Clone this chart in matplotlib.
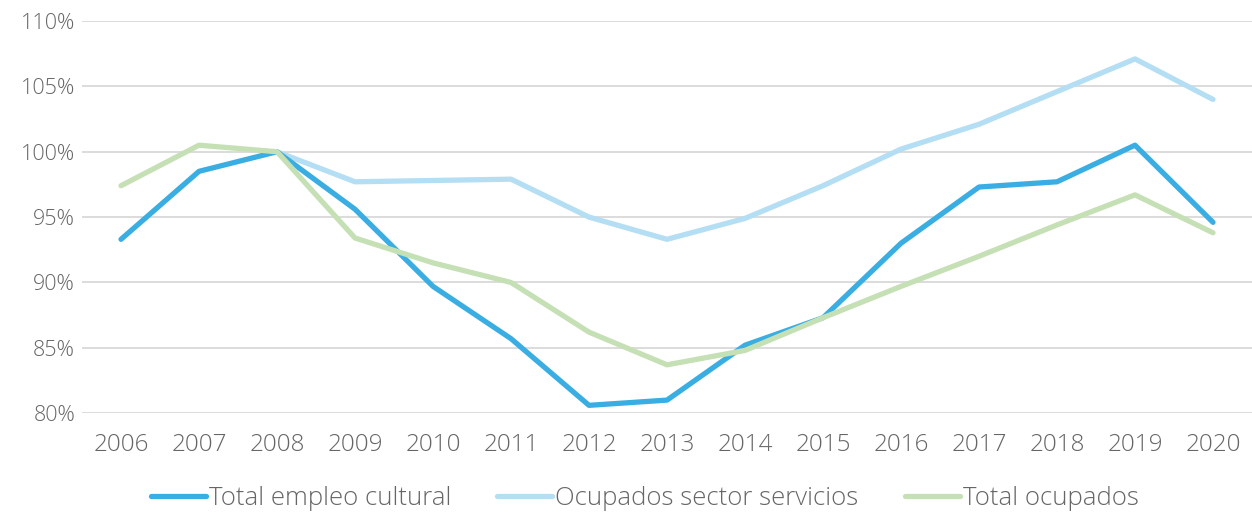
import matplotlib
matplotlib.use('Agg')
import matplotlib.pyplot as plt
from matplotlib.ticker import FuncFormatter

years = ['2006', '2007', '2008', '2009', '2010', '2011', '2012', '2013',
         '2014', '2015', '2016', '2017', '2018', '2019', '2020']

# index values (%)
empleo_cultural = [93.3, 98.5, 100.0, 95.6, 89.7, 85.7, 80.6, 81.0,
                   85.2, 87.3, 93.0, 97.3, 97.7, 100.5, 94.6]
# services series starts in 2008
servicios_years = years[2:]
servicios = [100.0, 97.7, 97.8, 97.9, 95.0, 93.3, 94.9, 97.4,
             100.2, 102.1, 104.6, 107.1, 104.0]
total_ocupados = [97.4, 100.5, 100.0, 93.4, 91.5, 90.0, 86.2, 83.7,
                  84.8, 87.3, 89.7, 92.0, 94.4, 96.7, 93.8]

plt.rcParams['font.family'] = ['Open Sans', 'DejaVu Sans']
plt.rcParams['font.weight'] = 'light'
text_col = '#666666'

fig = plt.figure(figsize=(12.52, 5.12), dpi=100)
ax = fig.add_axes([0.0655, 0.193, 0.9345, 0.766])

x_all = list(range(len(years)))
x_serv = x_all[2:]

ax.plot(x_serv, servicios, color='#B4DEF3', lw=3.8, label='Ocupados sector servicios',
        solid_capstyle='round', solid_joinstyle='round', zorder=3)
ax.plot(x_all, empleo_cultural, color='#3AAEE2', lw=3.8, label='Total empleo cultural',
        solid_capstyle='round', solid_joinstyle='round', zorder=4)
ax.plot(x_all, total_ocupados, color='#C6E0B5', lw=3.8, label='Total ocupados',
        solid_capstyle='round', solid_joinstyle='round', zorder=5)

ax.set_xlim(-0.5, len(years) - 0.5)
ax.set_ylim(80, 110)
ax.set_yticks(range(80, 111, 5))
ax.yaxis.set_major_formatter(FuncFormatter(lambda v, p: f'{int(v)}%'))
ax.set_xticks(x_all)
ax.set_xticklabels(years)
ax.grid(axis='y', color='#D9D9D9', lw=1.3)
ax.set_axisbelow(True)
for s in ax.spines.values():
    s.set_visible(False)
ax.tick_params(length=0, labelcolor=text_col)
ax.tick_params(axis='x', pad=14, labelsize=17.5)
ax.tick_params(axis='y', pad=5, labelsize=15.5)

handles, labels = ax.get_legend_handles_labels()
order = [1, 0, 2]
ax.legend([handles[i] for i in order], [labels[i] for i in order],
          loc='center', bbox_to_anchor=(0.481, -0.218), ncol=3, frameon=False,
          fontsize=18.5, labelcolor=text_col, handlelength=2.14,
          handletextpad=0.12, columnspacing=1.8)

fig.savefig('out.png', dpi=100)
